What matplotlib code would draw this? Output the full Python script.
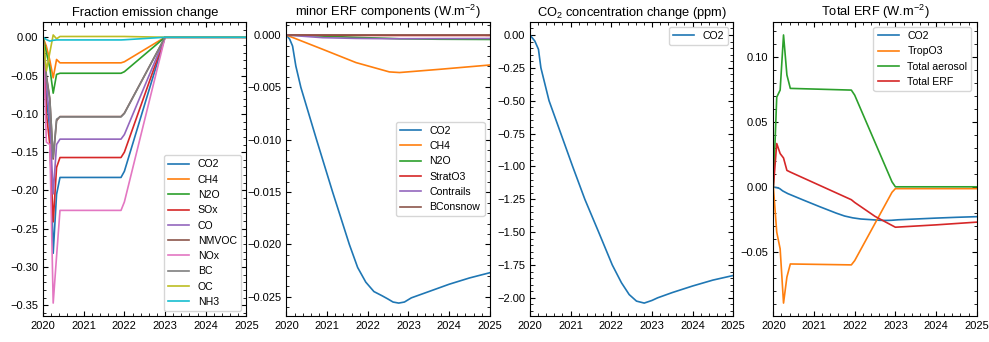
import matplotlib
matplotlib.use("Agg")
import matplotlib.pyplot as plt
from matplotlib.ticker import AutoMinorLocator

plt.rcParams['font.family'] = ['Liberation Sans', 'DejaVu Sans']
plt.rcParams['mathtext.fontset'] = 'custom'
plt.rcParams['mathtext.rm'] = 'Liberation Sans'
plt.rcParams['mathtext.it'] = 'Liberation Sans:italic'
plt.rcParams['font.size'] = 8
plt.rcParams['legend.fontsize'] = 7.6
plt.rcParams['axes.titlesize'] = 9.3
plt.rcParams['axes.titlepad'] = 4

# ---- panel 1: fraction emission change ----
t_emis = [2020.0, 2020.083, 2020.167, 2020.25, 2020.333, 2020.417,
          2021.917, 2022.0, 2023.0, 2025.0]
emis_names = ['CO2', 'CH4', 'N2O', 'SOx', 'CO', 'NMVOC', 'NOx', 'BC', 'OC', 'NH3']
emis_co2 = [0, -0.08, -0.12, -0.282, -0.205, -0.183, -0.183, -0.175, 0, 0]
emis_ch4 = [0, -0.012, -0.03, -0.053, -0.029, -0.0334, -0.0334, -0.032, 0, 0]
emis_n2o = [0, -0.02, -0.04, -0.073, -0.0485, -0.047, -0.047, -0.045, 0, 0]
emis_sox = [0, -0.10, -0.14, -0.241, -0.17, -0.157, -0.157, -0.150, 0, 0]
emis_co = [0, -0.06, -0.11, -0.2045, -0.14, -0.133, -0.133, -0.127, 0, 0]
emis_nmvoc = [0, -0.05, -0.08, -0.159, -0.109, -0.1035, -0.1035, -0.099, 0, 0]
emis_nox = [0, -0.137, -0.14, -0.347, -0.286, -0.226, -0.226, -0.215, 0, 0]
emis_bc = [0, -0.052, -0.081, -0.157, -0.107, -0.104, -0.104, -0.0995, 0, 0]
emis_oc = [0, -0.044, -0.02, 0.003, -0.002, 0.001, 0.001, 0.001, 0, 0]
emis_nh3 = [0, -0.003, -0.005, -0.004, -0.0035, -0.0035, -0.0035, -0.0033, 0, 0]

# ---- panel 2: minor ERF components ----
t_erf = [2020.0, 2020.08, 2020.15, 2020.23, 2020.354, 2020.74, 2021.135,
         2021.546, 2021.75, 2021.95, 2022.15, 2022.35, 2022.49, 2022.62,
         2022.76, 2022.9, 2023.07, 2023.5, 2024.0, 2024.5, 2025.0]
erf_co2 = [0, -0.0004, -0.00105, -0.00295, -0.005, -0.010, -0.015, -0.020,
           -0.0222, -0.0236, -0.0245, -0.0249, -0.0252, -0.0255, -0.0256,
           -0.0255, -0.0251, -0.0245, -0.0238, -0.0232, -0.0227]
t_minor = [2020.0, 2020.89, 2021.71, 2022.53, 2022.78, 2023.77, 2025.0]
erf_ch4 = [0, -0.00136, -0.00263, -0.00352, -0.00358, -0.00327, -0.00286]
erf_n2o = [0, -0.0001, -0.00022, -0.00032, -0.00036, -0.0004, -0.00042]
erf_strato3 = [0, -0.00002, -0.00003, -0.00004, -0.00004, -0.00004, -0.00004]
erf_contrails = [0, -0.00025, -0.00032, -0.00035, -0.00035, -0.00034, -0.00033]
erf_bcsnow = [0, 0.00001, 0.00001, 0.00001, 0.00001, 0.00001, 0.00001]

# ---- panel 3: CO2 concentration change ----
t_conc = [2020.0, 2020.12, 2020.21, 2020.27, 2020.47, 2020.76, 2021.05,
          2021.35, 2021.69, 2022.025, 2022.25, 2022.44, 2022.62, 2022.81,
          2023.0, 2023.14, 2023.5, 2024.0, 2024.5, 2025.0]
conc_co2 = [0, -0.046, -0.109, -0.25, -0.50, -0.75, -1.00, -1.25, -1.50,
            -1.75, -1.885, -1.975, -2.025, -2.04, -2.02, -2.00, -1.96,
            -1.91, -1.865, -1.83]

# ---- panel 4: total ERF ----
t_tot = [2020.0, 2020.083, 2020.167, 2020.25, 2020.333, 2020.417,
         2021.917, 2022.0, 2022.917, 2023.0, 2025.0]
erf_tropo3 = [0, -0.0346, -0.0474, -0.089, -0.069, -0.059, -0.0597,
              -0.0564, -0.004, -0.0012, -0.0012]
erf_aerosol = [0, 0.069, 0.0744, 0.1167, 0.086, 0.0757, 0.0744, 0.0705,
               0.004, 0.0002, 0.0002]
t_total = [2020.0, 2020.083, 2020.167, 2020.25, 2020.333, 2020.417,
           2021.917, 2022.0, 2022.5, 2023.0, 2024.0, 2025.0]
erf_total = [0, 0.0334, 0.0257, 0.0223, 0.0128, 0.0115, -0.0097, -0.0118,
             -0.0225, -0.0308, -0.029, -0.0269]


def style_axes(ax):
    ax.set_xlim(2020, 2025)
    ax.xaxis.set_minor_locator(AutoMinorLocator())
    ax.yaxis.set_minor_locator(AutoMinorLocator())
    ax.tick_params(which='both', direction='in', top=True, right=True)


fig, axs = plt.subplots(1, 4, figsize=(9.89, 3.42), dpi=100)
fig.subplots_adjust(left=0.0435, right=0.9876, bottom=0.0746, top=0.937,
                    wspace=0.197)

lw = 1.2

ax = axs[0]
emis_series = [emis_co2, emis_ch4, emis_n2o, emis_sox, emis_co, emis_nmvoc,
               emis_nox, emis_bc, emis_oc, emis_nh3]
for name, vals in zip(emis_names, emis_series):
    ax.plot(t_emis, vals, lw=lw, label=name)
ax.set_title('Fraction emission change')
ax.legend(loc='lower right')
style_axes(ax)

ax = axs[1]
ax.plot(t_erf, erf_co2, lw=lw, label='CO2')
ax.plot(t_minor, erf_ch4, lw=lw, label='CH4')
ax.plot(t_minor, erf_n2o, lw=lw, label='N2O')
ax.plot(t_minor, erf_strato3, lw=lw, label='StratO3')
ax.plot(t_minor, erf_contrails, lw=lw, label='Contrails')
ax.plot(t_minor, erf_bcsnow, lw=lw, label='BConsnow')
ax.set_title('minor ERF components (W.m$^{-2}$)')
ax.legend(loc='center right')
style_axes(ax)

ax = axs[2]
ax.plot(t_conc, conc_co2, lw=lw, label='CO2')
ax.set_title('CO$_2$ concentration change (ppm)')
ax.legend(loc='upper right')
style_axes(ax)

ax = axs[3]
ax.plot(t_erf, erf_co2, lw=lw, label='CO2')
ax.plot(t_tot, erf_tropo3, lw=lw, label='TropO3')
ax.plot(t_tot, erf_aerosol, lw=lw, label='Total aerosol')
ax.plot(t_total, erf_total, lw=lw, label='Total ERF')
ax.set_title('Total ERF (W.m$^{-2}$)')
ax.legend(loc='upper right')
style_axes(ax)

fig.savefig('out.png', dpi=100)
